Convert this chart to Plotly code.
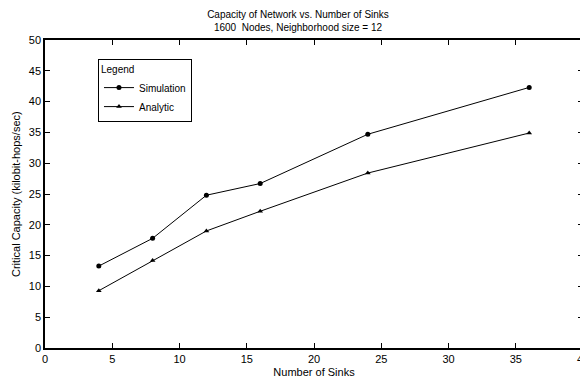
import plotly.graph_objects as go

sinks = [4, 8, 12, 16, 24, 36]
simulation = [13.3, 17.8, 24.8, 26.7, 34.7, 42.3]
analytic = [9.3, 14.2, 19.0, 22.2, 28.4, 34.9]

x_ticks = [0, 5, 10, 15, 20, 25, 30, 35, 40]
y_ticks = [0, 5, 10, 15, 20, 25, 30, 35, 40, 45, 50]

font = "Liberation Sans, Arial, Helvetica, sans-serif"

fig = go.Figure()
fig.add_trace(go.Scatter(
    x=sinks, y=simulation, name="Simulation", mode="lines+markers",
    line=dict(color="black", width=1),
    marker=dict(symbol="circle", size=5, color="black"),
))
fig.add_trace(go.Scatter(
    x=sinks, y=analytic, name="Analytic", mode="lines+markers",
    line=dict(color="black", width=1),
    marker=dict(symbol="triangle-up", size=5, color="black"),
))

axis_common = dict(
    showline=True, linecolor="black", linewidth=1.5, mirror="ticks",
    ticks="inside", ticklen=5, tickwidth=1, tickcolor="black",
    showgrid=False, zeroline=False, automargin=False,
    ticklabeloverflow="allow",
    tickfont=dict(family=font, size=11, color="black"),
)

fig.update_xaxes(
    range=[0, 40], tickvals=x_ticks,
    title=dict(text="Number of Sinks", font=dict(family=font, size=11, color="black"), standoff=4),
    **axis_common,
)
fig.update_yaxes(range=[0, 50], tickvals=y_ticks, **axis_common)

fig.add_annotation(
    text="Critical Capacity (kilobit-hops/sec)",
    xref="paper", yref="paper", x=0, y=0.5, xanchor="center", yanchor="middle",
    xshift=-29, textangle=-90, showarrow=False,
    font=dict(family=font, size=11, color="black"),
)

# The page body has an 8px margin, so the figure is sized to fit the window.
fig.update_layout(
    width=580, height=373,
    margin=dict(l=37, r=5, t=32, b=33),
    paper_bgcolor="white", plot_bgcolor="white",
    title=dict(
        text="Capacity of Network vs. Number of Sinks<br>1600  Nodes, Neighborhood size = 12",
        x=0.5, xanchor="center", y=0.972, yanchor="top",
        font=dict(family=font, size=10, color="black"),
    ),
    showlegend=True,
    legend=dict(
        x=0.0985, y=0.938, xanchor="left", yanchor="top",
        bgcolor="white", bordercolor="black", borderwidth=1,
        font=dict(family=font, size=10, color="black"),
        title=dict(text="Legend", font=dict(family=font, size=10, color="black")),
        tracegroupgap=0, itemwidth=30,
    ),
)

fig.write_html("out.html")
